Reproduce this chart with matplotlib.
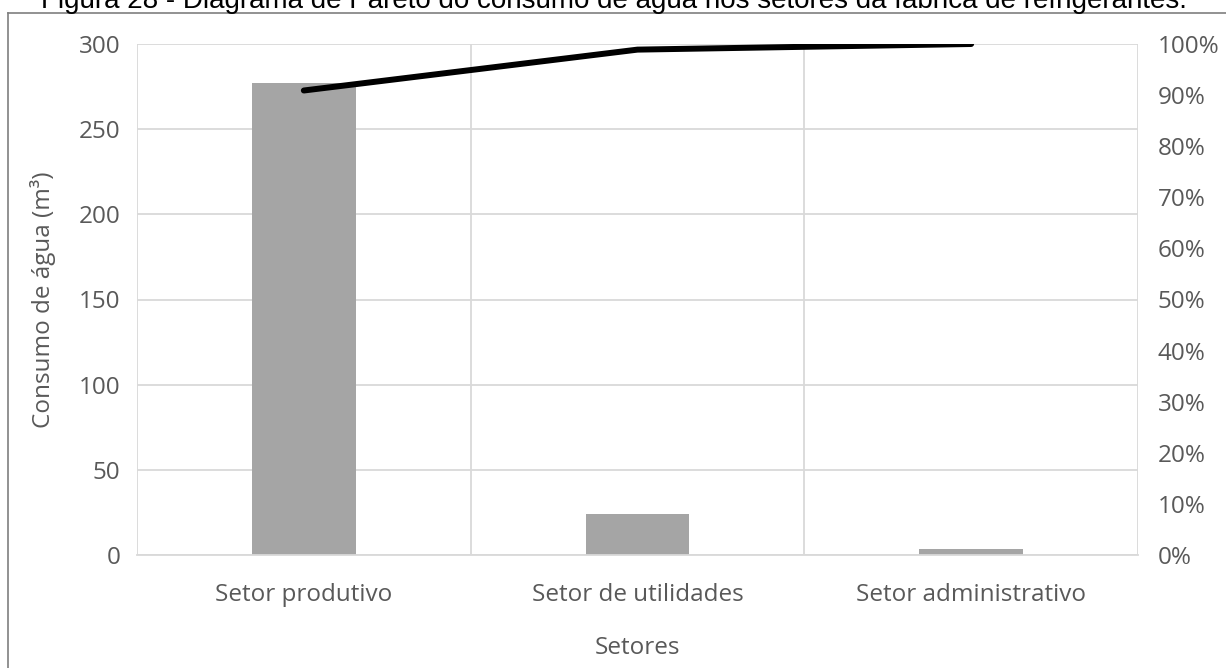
import matplotlib
matplotlib.use("Agg")
import matplotlib.pyplot as plt
from matplotlib.lines import Line2D
from matplotlib.ticker import FuncFormatter
import numpy as np

categories = ["Setor produtivo", "Setor de utilidades", "Setor administrativo"]
consumo = [277, 24, 3.5]
acumulado = [90.9, 98.9, 100.0]
y_ticks = [0, 50, 100, 150, 200, 250, 300]
pct_ticks = [0, 10, 20, 30, 40, 50, 60, 70, 80, 90, 100]

W, H = 1226, 668
fig = plt.figure(figsize=(W / 100, H / 100), dpi=100)
font = "Open Sans"
tc = "#595959"
fs = 17.5

ax = fig.add_axes([137 / W, 1 - 555 / H, (1138 - 137) / W, (555 - 44) / H])
x = np.arange(len(categories))
ax.bar(x, consumo, width=0.31, color="#a5a5a5", zorder=2)
ax.set_xlim(-0.5, len(categories) - 0.5)
ax.set_ylim(0, 300)
ax.set_yticks(y_ticks)
ax.set_xticks(x)
ax.set_xticklabels(categories)
ax.set_xticks([-0.5, 0.5, 1.5, 2.5], minor=True)
ax.grid(axis="y", color="#d9d9d9", lw=1.3, zorder=0)
ax.grid(axis="x", which="minor", color="#d9d9d9", lw=1.3, zorder=0)
ax.grid(axis="x", which="major", visible=False)
for s in ["top", "right", "left"]:
    ax.spines[s].set_visible(False)
ax.spines["bottom"].set_color("#d9d9d9")
ax.spines["bottom"].set_linewidth(1.3)
ax.tick_params(axis="both", which="both", length=0, labelsize=fs, labelcolor=tc)
ax.tick_params(axis="y", pad=12)
ax.tick_params(axis="x", pad=20)
for lab in ax.get_xticklabels() + ax.get_yticklabels():
    lab.set_fontfamily(font)
ax.set_ylabel("Consumo de água (m³)", fontsize=fs, color=tc, family=font, labelpad=16)
ax.set_xlabel("Setores", fontsize=fs, color=tc, family=font, labelpad=21)

ax2 = ax.twinx()
ax2.plot(x, acumulado, color="black", lw=4.3, solid_capstyle="round", zorder=3)
ax2.set_ylim(0, 100)
ax2.set_yticks(pct_ticks)
ax2.yaxis.set_major_formatter(FuncFormatter(lambda v, p: f"{int(v)}%"))
for s in ["top", "right", "left", "bottom"]:
    ax2.spines[s].set_visible(False)
ax2.tick_params(axis="y", length=0, labelsize=fs, labelcolor=tc, pad=14)
for lab in ax2.get_yticklabels():
    lab.set_fontfamily(font)

# frame lines
fig.add_artist(Line2D([8 / W, 8 / W], [0, 1 - 13 / H], transform=fig.transFigure, color="#7f7f7f", lw=1.2))
fig.add_artist(Line2D([8 / W, 1], [1 - 13 / H, 1 - 13 / H], transform=fig.transFigure, color="#7f7f7f", lw=1.2))

fig.text(614 / W, 1 - 8 / H,
         "Figura 28 - Diagrama de Pareto do consumo de água nos setores da fábrica de refrigerantes.",
         ha="center", va="baseline", fontsize=20, family="Liberation Sans", color="black")

fig.savefig("out.png", dpi=100)
